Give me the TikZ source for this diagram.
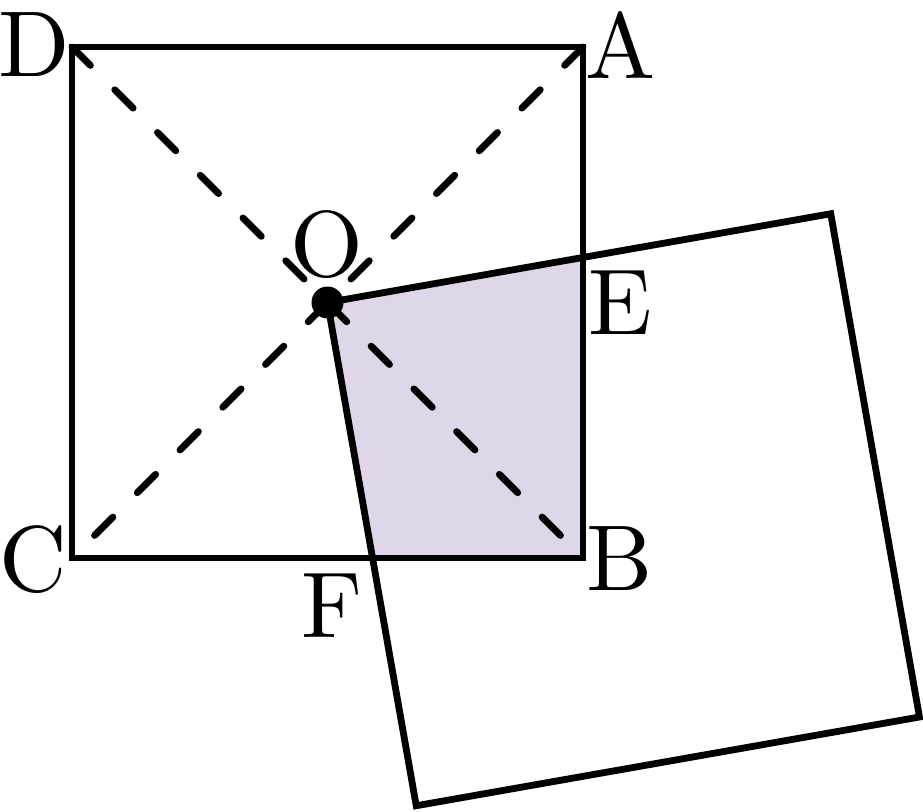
\documentclass[tikz,border=0pt]{standalone}
\usetikzlibrary{calc}
\definecolor{lilac}{RGB}{224,214,233}

\begin{document}
\begin{tikzpicture}[
  x=0.01cm, y=-0.01cm,
  edge/.style = {line width=0.068cm},
  diag/.style = {line width=0.068cm, line cap=round, dash pattern=on 0.26cm off 0.344cm},
  lbl/.style  = {inner sep=0pt, font=\normalsize, scale=2.66}
]

% ---- constants ----
\def\side{511}     % side of both squares
\def\ang{10}       % turn of the second square

\useasboundingbox (0,0) rectangle (923,811);

% ---- points of the fixed square ----
\coordinate (D) at (72,47);
\coordinate (A) at (583,47);
\coordinate (B) at (583,558);
\coordinate (C) at (72,558);
\coordinate (O) at (327.5,302.5);

% ---- points of the turned square ----
\coordinate (P) at ($(O)+({\side*cos(\ang)},{-\side*sin(\ang)})$);
\coordinate (Q) at ($(P)+({\side*sin(\ang)},{\side*cos(\ang)})$);
\coordinate (R) at ($(O)+({\side*sin(\ang)},{\side*cos(\ang)})$);
\coordinate (E) at (intersection of O--P and A--B);
\coordinate (F) at (intersection of O--R and C--B);

% ---- overlap ----
\fill[lilac] (O) -- (E) -- (B) -- (F) -- cycle;

% ---- diagonals ----
\draw[diag] (D) -- (B);
\draw[diag] (A) -- (C);

% ---- squares ----
\draw[edge] (D) -- (A) -- (B) -- (C) -- cycle;
\draw[edge] (O) -- (P) -- (Q) -- (R) -- cycle;
\fill (O) circle (16);

% ---- labels ----
\node[lbl] (lD) at (34,45)  {D};
\node[lbl] (lA) at (621,45) {A};
\node[lbl] (lO) at (327,245) {O};
\node[lbl] (lE) at (620,303) {E};
\node[lbl] (lB) at (620,559) {B};
\node[lbl] (lC) at (33,560) {C};
\node[lbl] (lF) at (332,606) {F};

\end{tikzpicture}
\end{document}
